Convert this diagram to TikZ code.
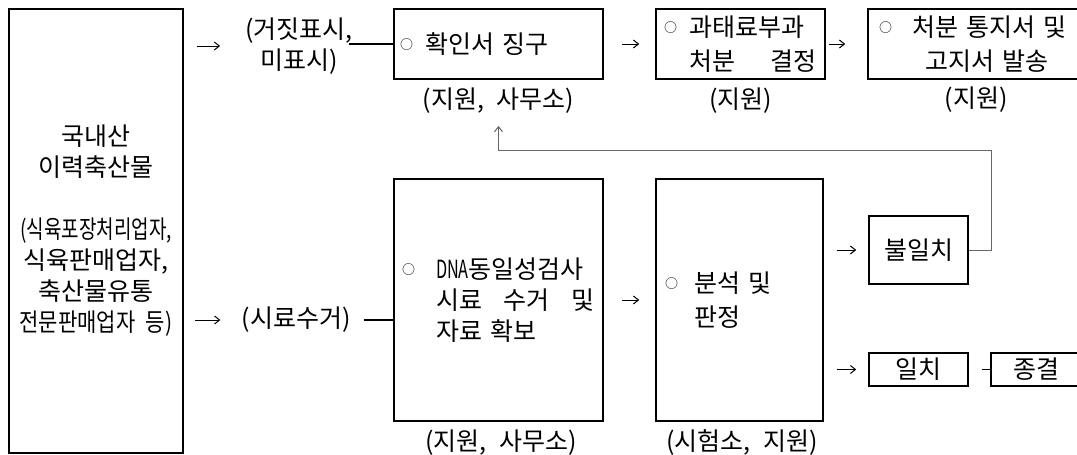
\documentclass[tikz,border=0pt]{standalone}
\usepackage{fontspec}
\usepackage{graphicx}
\usepackage{tikz}
\usetikzlibrary{arrows.meta}
\setmainfont{Noto Sans CJK KR}[WordSpace=2.2]
\newcommand{\ohead}{\raisebox{4pt}{\fontsize{13}{13}\selectfont ○}}

\begin{document}
\begin{tikzpicture}[
    x=1pt, y=-1pt,
    % Cajas de cada paso del procedimiento
    paso/.style={draw=black, line width=1.6pt, inner ysep=0pt, align=left, font=\fontsize{25}{31}\selectfont},
    % Textos sueltos (entre parentesis)
    etiqueta/.style={inner sep=0pt, align=center, font=\fontsize{25}{31}\selectfont},
    flechaPaso/.style={-{Straight Barb[length=5pt,width=8pt]}, line width=1pt},
    lineaPaso/.style={line width=1.3pt},
    flechaRetorno/.style={-{Straight Barb[length=5pt,width=8pt]}, color=black!60, line width=1pt}
]
    \useasboundingbox (0,0) rectangle (1077,455);

    % --- ORIGEN ---
    \node[paso, align=center, minimum width=174pt, minimum height=444pt] (origen) at (96,231)
        {국내산\\이력축산물\\[31pt]\scalebox{0.76}[1]{(식육포장처리업자,}\\식육판매업자,\\축산물유통\\\scalebox{0.84}[1]{전문판매업자 등)}};

    % --- FILA SUPERIOR ---
    \node[etiqueta] (falso) at (299,46) {(거짓표시,\\미표시)};
    \node[paso, text width=197pt, inner xsep=6pt, minimum height=70pt] (conf) at (498.5,44)
        {\ohead\hspace{12pt}확인서 징구};
    \node[paso, text width=153pt, inner xsep=8pt, minimum height=70pt, font=\fontsize{25}{34}\selectfont] (multa) at (740.5,44)
        {\ohead\hspace{12pt}과태료부과\\\hspace*{25pt}처분\hfill 결정};
    \node[paso, text width=208pt, inner xsep=11pt, minimum height=70pt, font=\fontsize{25}{34}\selectfont] (aviso) at (983,44)
        {\ohead\hspace{20pt}처분 통지서 및\\\hspace*{46pt}고지서 발송};

    \node[etiqueta] (lconf)  at (498.5,101) {(지원, 사무소)};
    \node[etiqueta] (lmulta) at (740.5,101) {(지원)};
    \node[etiqueta] (laviso) at (976,100)   {(지원)};

    % --- FILA INFERIOR ---
    \node[etiqueta] (muestra) at (296,320) {(시료수거)};
    \node[paso, text width=193pt, inner xsep=8pt, minimum height=242pt] (dna) at (498.5,300)
        {\ohead\hspace{21pt}\scalebox{0.65}[1]{DNA}동일성검사\\\hspace*{34pt}시료\hfill 수거\hfill 및\\\hspace*{34pt}자료 확보};
    \node[paso, text width=149pt, inner xsep=9pt, minimum height=242pt, font=\fontsize{25}{34}\selectfont] (anal) at (739.5,300)
        {\ohead\hspace{16pt}분석 및\\\hspace*{29pt}판정};

    \node[paso, align=center, minimum width=99pt, minimum height=68pt] (noeq) at (918.5,250) {불일치};
    \node[paso, align=center, minimum width=99pt, minimum height=33pt] (eq)   at (918.5,369.5) {일치};
    \node[paso, align=center, minimum width=90pt, minimum height=33pt] (fin)  at (1036,369.5) {종결};

    \node[etiqueta] (ldna)  at (501,443) {(지원, 사무소)};
    \node[etiqueta] (lanal) at (742,443) {(시험소, 지원)};

    % --- CONECTORES ---
    \draw[flechaPaso, shorten <=13pt, shorten >=25pt] (origen.east |- falso.west) -- (falso.west);
    \draw[lineaPaso, shorten <=-4pt] (conf.west -| falso.east) -- (conf.west);
    \draw[flechaPaso, shorten <=18pt, shorten >=16pt] (conf) -- (multa);
    \draw[flechaPaso, shorten <=3pt, shorten >=22pt] (multa) -- (aviso);

    \draw[flechaPaso, shorten <=11pt, shorten >=21pt] (origen.east |- muestra.west) -- (muestra.west);
    \draw[lineaPaso, shorten <=13pt] (muestra.east) -- (muestra.east -| dna.west);
    \draw[flechaPaso, shorten <=18pt, shorten >=16pt] (dna) -- (anal);
    \draw[flechaPaso, shorten <=13pt, shorten >=12pt] (anal.east |- noeq.west) -- (noeq.west);
    \draw[flechaPaso, shorten <=13pt, shorten >=12pt] (anal.east |- eq.west) -- (eq.west);
    \draw[lineaPaso, shorten <=13pt] (eq) -- (fin);

    % --- RETORNO (no coincide) ---
    \coordinate (giro) at (991,150);
    \draw[flechaRetorno, shorten >=12pt] (noeq.east) -| (giro) -| (lconf.south);

\end{tikzpicture}
\end{document}
